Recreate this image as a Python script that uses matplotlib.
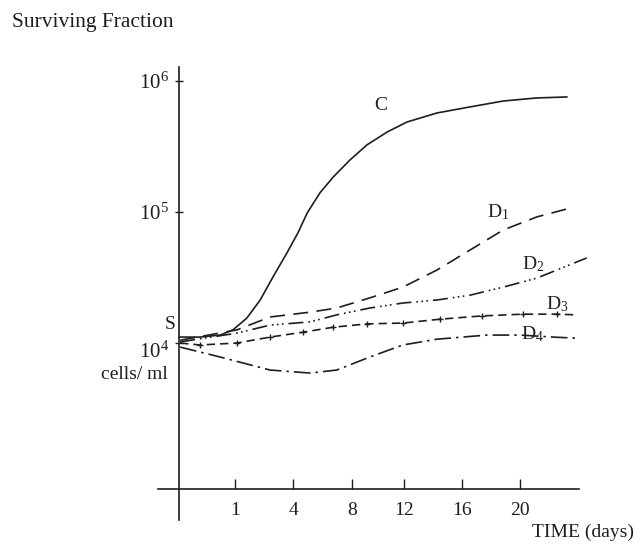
import matplotlib
matplotlib.use('Agg')
import matplotlib.pyplot as plt
from matplotlib.transforms import ScaledTranslation

plt.rcParams['font.family'] = 'Liberation Serif'
plt.rcParams['mathtext.fontset'] = 'custom'
plt.rcParams['mathtext.rm'] = 'Liberation Serif'
plt.rcParams['mathtext.it'] = 'Liberation Serif'

ink = '#1e1e1e'

# x positions along the time axis (tick spacing is not linear in days)
tick_pos = [0.97, 1.97, 2.98, 3.88, 4.88, 5.88]
tick_labels = ['1', '4', '8', '12', '16', '20']

# cells/ml
c_x = [0.0, 0.36, 0.71, 0.93, 1.17, 1.40, 1.62, 1.86, 2.05, 2.21, 2.43, 2.66, 2.95,
       3.24, 3.59, 3.93, 4.45, 5.02, 5.59, 6.17, 6.69]
c_y = [1.11e4, 1.11e4, 1.15e4, 1.26e4, 1.55e4, 2.13e4, 3.19e4, 4.86e4, 6.92e4, 9.82e4,
       1.40e5, 1.85e5, 2.50e5, 3.25e5, 4.08e5, 4.86e5, 5.70e5, 6.34e5, 7.03e5, 7.42e5,
       7.55e5]

d1_x = [0.02, 1.0, 1.57, 2.26, 2.72, 3.29, 3.86, 4.45, 5.02, 5.59, 6.17, 6.74]
d1_y = [1.05e4, 1.26e4, 1.58e4, 1.72e4, 1.85e4, 2.21e4, 2.67e4, 3.61e4, 5.13e4,
        7.29e4, 9.17e4, 1.07e5]

d2_x = [0.02, 1.0, 1.57, 2.26, 2.72, 3.29, 3.86, 4.45, 5.02, 5.59, 6.17, 7.03]
d2_y = [1.02e4, 1.19e4, 1.37e4, 1.45e4, 1.64e4, 1.85e4, 2.02e4, 2.13e4, 2.32e4,
        2.67e4, 3.13e4, 4.46e4]

d3_x = [0.02, 0.36, 1.0, 1.57, 2.14, 2.66, 3.24, 3.86, 4.5, 5.22, 5.93, 6.52, 6.86]
d3_y = [1.0e4, 9.66e3, 1.0e4, 1.11e4, 1.21e4, 1.32e4, 1.40e4, 1.42e4, 1.52e4,
        1.61e4, 1.66e4, 1.66e4, 1.64e4]

d4_x = [0.02, 0.71, 1.57, 2.26, 2.72, 3.29, 3.86, 4.45, 5.31, 5.88, 6.45, 6.83]
d4_y = [9.31e3, 7.82e3, 6.22e3, 5.90e3, 6.22e3, 7.82e3, 9.66e3, 1.07e4, 1.15e4,
        1.15e4, 1.11e4, 1.09e4]

fig = plt.figure(figsize=(6.38, 5.44), dpi=100)
ax = fig.add_axes([150 / 638, 14 / 544, 450 / 638, 470 / 544])

ax.plot(c_x, c_y, color=ink, lw=1.2, solid_capstyle='round')
ax.plot(d1_x, d1_y, color=ink, lw=1.2, dashes=(9, 5))
ax.plot(d2_x, d2_y, color=ink, lw=1.2, dashes=(9, 3, 1, 2, 1, 2, 1, 3))
ax.plot(d3_x, d3_y, color=ink, lw=1.2, dashes=(5, 3), marker='+', ms=5,
        mew=1.0, markevery=slice(1, -1))
ax.plot(d4_x, d4_y, color=ink, lw=1.2, dashes=(10, 3, 1.5, 3))

ax.set_yscale('log')
ax.set_xlim(-0.5, 7.259)
ax.set_ylim(10 ** 2.573, 10 ** 6.160)

for s in ['top', 'right']:
    ax.spines[s].set_visible(False)
ax.spines['left'].set_position(('data', 0))
ax.spines['bottom'].set_position(('data', 10 ** 2.885))
ax.spines['left'].set_bounds(10 ** 2.649, 10 ** 6.107)
ax.spines['bottom'].set_bounds(-0.36, 6.9)
for s in ['left', 'bottom']:
    ax.spines[s].set_color(ink)
    ax.spines[s].set_linewidth(1.2)

ax.set_xticks(tick_pos)
ax.set_xticklabels(tick_labels)
ax.tick_params(axis='x', direction='in', length=7, width=1, colors=ink,
               labelsize=14, pad=9)
ax.set_yticks([1e4, 1e5, 1e6])
ax.set_yticklabels([r'$10^{4}$', r'$10^{5}$', r'$10^{6}$'])
ax.yaxis.set_minor_locator(matplotlib.ticker.NullLocator())
ax.tick_params(axis='y', direction='inout', length=6, width=1, colors=ink,
               labelsize=15, pad=4)
# the 10^4 label sits a little below its level in the original
lbl = ax.get_yticklabels()[0]
lbl.set_transform(lbl.get_transform() + ScaledTranslation(0, -0.07, fig.dpi_scale_trans))

# curve labels
ax.text(3.48, 10 ** 5.81, 'C', fontsize=14, color=ink, ha='center', va='center')
ax.text(5.5, 10 ** 5.0, r'D$_{1}$', fontsize=14, color=ink, ha='center', va='center')
ax.text(6.1, 10 ** 4.6, r'D$_{2}$', fontsize=14, color=ink, ha='center', va='center')
ax.text(6.53, 10 ** 4.30, r'D$_{3}$', fontsize=14, color=ink, ha='center', va='center')
ax.text(6.1, 10 ** 4.07, r'D$_{4}$', fontsize=14, color=ink, ha='center', va='center')

ax.text(-0.16, 10 ** 4.14, 'S', fontsize=14, color=ink, ha='center', va='center')
ax.text(-0.19, 10 ** 3.76, 'cells/ ml', fontsize=14, color=ink, ha='right', va='center')

fig.text(12 / 638, 1 - 22 / 544, 'Surviving Fraction', fontsize=15.5, color=ink,
         ha='left', va='center')
fig.text(634 / 638, 3 / 544, 'TIME (days)', fontsize=14, color=ink,
         ha='right', va='bottom')

fig.savefig('out.png', dpi=100)
